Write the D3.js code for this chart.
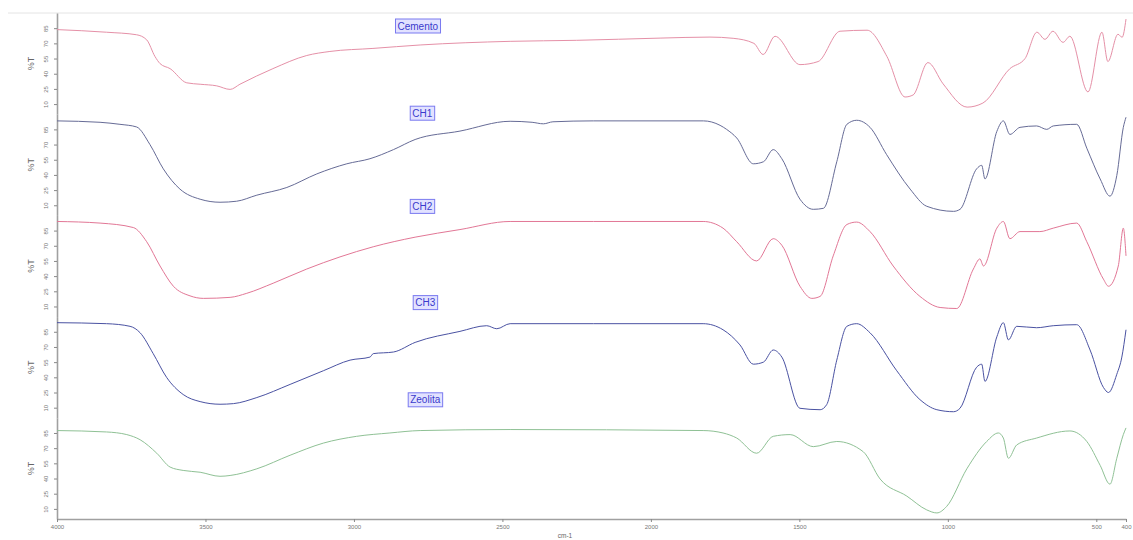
<!DOCTYPE html>
<html><head><meta charset="utf-8">
<script src="https://cdn.jsdelivr.net/npm/d3@7"></script>
<style>body{margin:0;background:#fff;} svg{display:block;font-family:"Liberation Sans",Arial,sans-serif;}</style>
</head><body><svg id="c" width="1133" height="540"></svg>
<script>
// ---------- data ----------
const seriesNames = ["Cemento", "CH1", "CH2", "CH3", "Zeolita"];
const seriesColors = ["#e590a7", "#666b96", "#e27796", "#4a52a2", "#8fc195"];

const cemento = [[4000,83.6],[3833,81],[3732,78.5],[3698,73.5],[3670,57],[3653,50],[3619,45],[3563,31],[3518,29.6],[3462,28],[3417,24.5],[3384,29.6],[3273,45],[3159,58],[3081,62],[2936,65],[2777,68.4],[2474,72],[2250,73],[1969,75.2],[1801,76.2],[1723,75],[1653,70],[1622,59],[1582,77],[1498,49],[1437,52],[1363,82],[1272,83],[1205,57],[1144,17],[1117,19],[1067,51],[1016,30],[935,7],[882,11],[791,45],[740,55],[700,81],[673,74],[646,82],[612,71],[589,77],[528,22],[481,81],[461,52],[427,79],[413,76],[400,94]];

const ch1 = [[4000,93.4],[3855,92],[3788,90],[3732,87.4],[3687,70],[3642,46],[3586,26],[3518,16],[3451,13],[3395,14],[3327,20],[3226,27.6],[3125,41],[3024,51],[2946,56],[2867,65],[2794,75],[2643,83.3],[2474,93],[2400,92],[2362,90.5],[2330,92.5],[2194,93.4],[1823,93.4],[1767,89],[1745,85],[1711,76.5],[1655,51],[1621,53],[1588,65],[1559,56],[1498,16],[1453,6],[1419,7],[1374,53],[1340,90],[1307,94],[1262,87],[1206,60],[1127,26],[1071,9],[981,4],[959,6],[903,46],[886,49.5],[875,36],[835,83],[813,93.4],[791,80],[757,87],[701,88.4],[667,85],[645,88.4],[566,90],[532,66.4],[487,36],[454,19],[431,39.4],[409,87],[400,97]];

const ch2 = [[4000,94],[3855,92.4],[3743,88],[3698,74],[3653,50],[3608,30],[3552,20.5],[3507,18],[3417,19],[3361,23],[3272,33],[3159,47],[3047,59],[2935,69],[2794,78.5],[2643,86],[2474,94],[2194,94],[1824,94],[1757,87.4],[1711,74],[1644,55],[1588,77],[1559,70.5],[1498,30],[1458,18],[1430,20],[1386,60],[1340,91],[1307,93.4],[1262,84],[1184,50],[1094,20],[1026,9],[970,8],[914,47],[892,57],[880,50],[835,87.4],[813,94],[791,77],[757,84],[690,84],[645,87.4],[566,92.4],[532,74],[476,37],[459,30],[426,50],[409,87.4],[400,60]];

const ch3 = [[4000,94],[3833,93],[3754,90.4],[3720,84],[3676,63.4],[3631,40],[3575,23],[3518,16],[3451,13.4],[3406,14],[3327,20],[3215,33],[3103,46.5],[3013,57],[2946,60],[2935,63.4],[2867,65],[2794,74.5],[2643,85.4],[2553,91],[2519,88],[2474,93],[2194,93],[1824,93],[1757,87],[1700,72],[1655,53],[1621,55],[1588,67],[1559,60],[1498,9.4],[1430,8],[1408,13],[1374,57],[1340,90.4],[1307,93],[1262,84],[1172,46.5],[1094,18],[1037,8],[981,6],[959,9.4],[903,50],[886,53],[875,36],[835,80],[813,94],[796,77],[768,90.4],[701,89],[645,91],[566,92],[521,67],[476,30],[459,25],[431,43],[414,60],[400,87]];

const zeolita = [[4000,87.4],[3833,86],[3765,83.4],[3720,78.3],[3664,65],[3619,51.3],[3575,48],[3518,46.2],[3451,42.2],[3417,43],[3327,49.6],[3215,63],[3103,75],[2991,81.7],[2879,85],[2777,87.4],[2474,88.4],[1824,87.4],[1757,85],[1711,80],[1644,65],[1588,81.7],[1531,83.4],[1453,71.5],[1374,76.6],[1285,66.5],[1228,39.5],[1138,22.6],[1071,9],[1037,6],[1004,12.4],[936,49.6],[869,76.6],[830,85],[813,80],[796,60],[768,73.2],[701,80],[589,87],[532,76.6],[487,53],[454,34.4],[431,60],[409,83.4],[400,90]];

const xTickValues = [4000, 3500, 3000, 2500, 2000, 1500, 1000, 500, 400];
const yTickValues = [10, 25, 40, 55, 70, 85];
const xAxisTitle = "cm-1";
const yAxisTitle = "%T";

// ---------- layout ----------
const series = [cemento, ch1, ch2, ch3, zeolita];
const W = 1133, H = 540;
const mLeft = 57, mRight = 1126, mTop = 13, mBottom = 519;
const panelH = (mBottom - mTop) / series.length;
// label box centres: [wavenumber for x, pixel offset from panel top]
const labelPos = [[2785, 13], [2770, -1], [2770, -9], [2760, -14], [2760, -18]];

const svg = d3.select("#c");
svg.append("rect").attr("width", W).attr("height", H).attr("fill", "#fff");

const x = d3.scaleLinear().domain([4000, 400]).range([mLeft, mRight]);

// top frame line
svg.append("line").attr("x1", 8).attr("x2", W).attr("y1", mTop).attr("y2", mTop)
  .attr("stroke", "#e4e4e4").attr("stroke-width", 1);

series.forEach((data, i) => {
  const pTop = mTop + i * panelH, pBot = pTop + panelH;
  const y = d3.scaleLinear().domain([0, 100]).range([pBot, pTop]);

  // y axis
  const ax = svg.append("g").attr("transform", `translate(${mLeft},0)`)
    .call(d3.axisLeft(y).tickValues(yTickValues).tickSize(3).tickSizeOuter(0));
  ax.select(".domain").attr("stroke", "#a0a0a0").attr("stroke-width", 1.6);
  ax.selectAll(".tick line").attr("stroke", "#888");
  ax.selectAll(".tick text").attr("font-size", 6).attr("fill", "#777")
    .attr("x", 0).attr("dx", 0).attr("dy", 0)
    .attr("transform", "translate(-9,0) rotate(-90)")
    .attr("text-anchor", "middle");

  svg.append("text")
    .attr("transform", `translate(${34},${(pTop + pBot) / 2}) rotate(-90)`)
    .attr("text-anchor", "middle").attr("font-size", 9).attr("fill", "#666")
    .text(yAxisTitle);

  // curve
  const line = d3.line().x(d => x(d[0])).y(d => y(d[1])).curve(d3.curveMonotoneX);
  svg.append("path").datum(data).attr("d", line)
    .attr("fill", "none").attr("stroke", seriesColors[i]).attr("stroke-width", 1);

  // label box
  const lx = x(labelPos[i][0]), ly = pTop + labelPos[i][1];
  const g = svg.append("g");
  const t = g.append("text").attr("x", lx).attr("y", ly + 3.5)
    .attr("text-anchor", "middle").attr("font-size", 10).attr("fill", "#3a3acc")
    .text(seriesNames[i]);
  const bb = t.node().getBBox();
  g.insert("rect", "text").attr("x", bb.x - 2).attr("y", ly - 7)
    .attr("width", bb.width + 4).attr("height", 14)
    .attr("fill", "#e2e2ff").attr("stroke", "#7a7af0").attr("stroke-width", 1);
});

// x axis
const xa = svg.append("g").attr("transform", `translate(0,${mBottom})`)
  .call(d3.axisBottom(x).tickValues(xTickValues).tickFormat(d3.format("d")).tickSize(3).tickSizeOuter(0));
xa.select(".domain").attr("stroke", "#a0a0a0").attr("stroke-width", 1.6);
xa.selectAll(".tick line").attr("stroke", "#888");
xa.selectAll(".tick text").attr("font-size", 6).attr("fill", "#777").attr("dy", "0.6em");

svg.append("text").attr("x", 565).attr("y", 538).attr("text-anchor", "middle")
  .attr("font-size", 6.5).attr("fill", "#666").text(xAxisTitle);
</script></body></html>
